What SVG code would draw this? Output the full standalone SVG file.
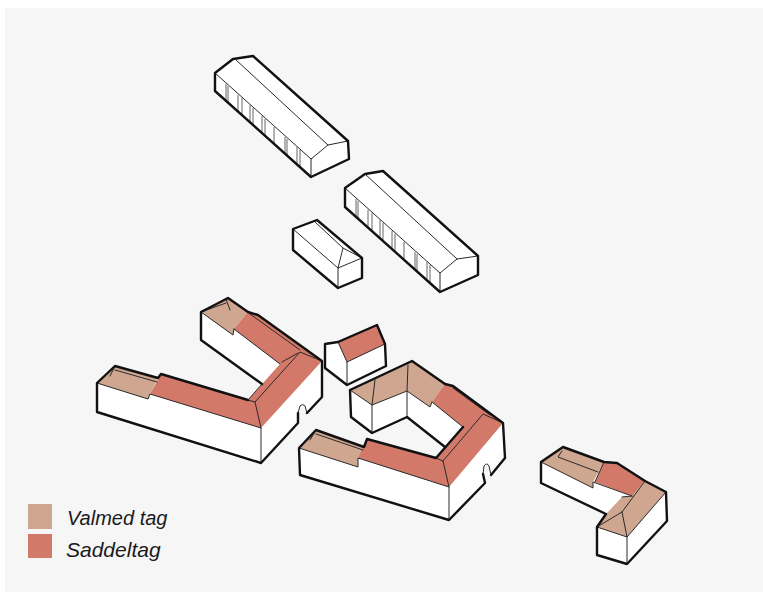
<svg xmlns="http://www.w3.org/2000/svg" width="763" height="592" viewBox="0 0 763 592">
<style>
.o{stroke:#111;stroke-width:2.4;stroke-linejoin:round;stroke-linecap:round;fill:none}
.w{fill:#fff}
.t{fill:#cfa68f}
.r{fill:#d2796a}
.l{stroke:#2a2a2a;stroke-width:1;fill:none;stroke-linecap:round;stroke-linejoin:round}
.f{stroke:#666;stroke-width:1;fill:none}
.x{font-family:"Liberation Sans",Arial,sans-serif;font-style:italic;fill:#1a1a1a}
</style>
<defs>
<path id="slats" d="M226 84V101M228 86V103M238 95V112M242 98V115M250 105V122M253 108V125M262 116V133M265 119V136M274 127V144M285 137V154M287 139V156M297 147V164M300 150V167"/>
</defs>
<rect x="0" y="0" width="763" height="592" fill="#fff"/>
<rect x="5" y="8" width="758" height="584" fill="#f6f6f6"/>
<g id="building-a">
<path class="w" d="M215 73L233 59L253 56L348 141L349 159L311 177L215 91Z"/>
<path class="l" d="M235 59L328 145M215 73L311 159L328 145L348 141M311 159V177"/>
<use href="#slats" class="f"/>
<path class="o" d="M215 73L233 59L253 56L348 141L349 159L311 177L215 91Z"/>
</g>
<g id="building-b">
<path class="w" d="M345 188L365 174L383 171L478 256L478 275L440 292L345 207Z"/>
<path class="l" d="M365 174L457 259M345 188L440 273L457 259L478 256M440 273V292"/>
<use href="#slats" class="f" transform="translate(130 115)"/>
<path class="o" d="M345 188L365 174L383 171L478 256L478 275L440 292L345 207Z"/>
</g>
<g id="building-c">
<path class="w" d="M293 229L317 220L362 258L362 278L338 288L293 250Z"/>
<path class="l" d="M293 229L338 268M315 222L343 248L338 268L362 258M343 248L362 258M338 268V288"/>
<path class="o" d="M293 229L317 220L362 258L362 278L338 288L293 250Z"/>
</g>
<g id="building-d">
<path class="w" d="M97 383L148 399L150 394L261 428L322 361V397L307 413L303 405L298 413V423L261 463L97 412Z"/>
<path class="w" d="M201 312L233 335L234 329L280 364L248 400L262 384L201 340Z"/>
<path class="t" d="M97 383L115 366L158 378L150 394L148 399Z"/>
<path class="t" d="M201 312L228 298L248 312L234 329L233 335Z"/>
<path class="r" d="M150 394L161 374L248 400L280 364L234 329L248 312L258 315L322 361L261 428Z"/>
<path class="l" d="M115 370L157 382M115 366L110 376M248 400L255 402L261 428V463M255 402L300 352L322 361M282 362L298 353M226 299L230 310M201 312L226 303M97 383L148 399L150 394L261 428M234 329L233 335L201 312M250 314L300 350M234 329L280 364"/>
<path class="o" d="M248 400L161 374L158 378L115 366L97 383V412L261 463L298 423V413"/>
<path class="o" d="M307 413L322 397V361L258 315L248 312L228 298L201 312V340L262 384"/>
<path class="l" d="M248 400L262 384M298 413L300 406Q303 403 305 406L307 413"/>
</g>
<g id="building-e">
<path class="w" d="M325 344L338 342L377 325L386 344L386 366L347 385L325 368Z"/>
<path class="r" d="M338 342L377 325L385 344L347 362Z"/>
<path class="l" d="M338 342L347 362V385M347 362L385 344"/>
<path class="o" d="M325 344L338 342L377 325L385 344L386 366L347 385L325 368Z"/>
</g>
<g id="building-f">
<path class="w" d="M350 390L412 361L445 384L463 427L445 447L407 417L372 433L351 417Z"/>
<path class="t" d="M350 390L412 361L445 384L432 402L430 407L407 391L372 405Z"/>
<path class="l" d="M375 380L372 405V433M408 365L407 391V417M350 390L372 405L407 391L430 407L432 402"/>
<path class="o" d="M445 384L412 361L350 390L351 417L372 433L407 417L445 447"/>
</g>
<g id="building-g">
<path class="w" d="M299 448L358 467L358 458L449 487L503 423L505 458L491 475L487 464L483 474L485 483L449 520L300 475Z"/>
<path class="t" d="M299 448L316 430L364 447L358 458L358 467Z"/>
<path class="r" d="M358 458L367 439L436 458L463 427L432 402L445 384L453 386L503 423L449 487Z"/>
<path class="l" d="M316 434L363 450M316 430L310 440M436 458L443 461L449 487V520M443 461L483 414L503 423M299 448L358 467V458L449 487M432 402L463 427M453 388L490 415"/>
<path class="o" d="M463 427L436 458L367 439L364 447L316 430L299 448L300 475L449 520L485 483L483 474"/>
<path class="o" d="M491 475L505 458L503 423L453 386L445 384"/>
<path class="l" d="M483 474L484 466Q487 462 489 466L491 475"/>
</g>
<g id="building-h">
<path class="w" d="M541 462L593 488L593 482L632 496L606 514L541 483Z"/>
<path class="w" d="M597 527L627 537L666 492L667 521L627 564L597 555Z"/>
<path class="t" d="M541 462L563 447L604 462L593 482L593 488Z"/>
<path class="r" d="M604 462L617 463L645 481L632 496L595 482Z"/>
<path class="t" d="M597 527L606 514L622 497L632 496L645 481L666 492L627 537Z"/>
<path class="l" d="M562 451L558 457L598 472M541 462L593 488V482L632 496M622 512L627 537V564M622 512L597 527M622 512L645 481M604 462L595 482M597 527L627 537L666 492M632 496L622 497"/>
<path class="o" d="M606 514L541 483V462L563 447L604 462L617 463L645 481L666 492L667 521L627 564L597 555V527L606 514"/>
</g>
<g id="legend">
<rect class="t" x="28" y="504" width="24" height="25"/>
<rect class="r" x="28" y="534" width="24" height="24"/>
<text class="x" x="67" y="525" font-size="20">Valmed tag</text>
<text class="x" x="66" y="557" font-size="21">Saddeltag</text>
</g>
</svg>
